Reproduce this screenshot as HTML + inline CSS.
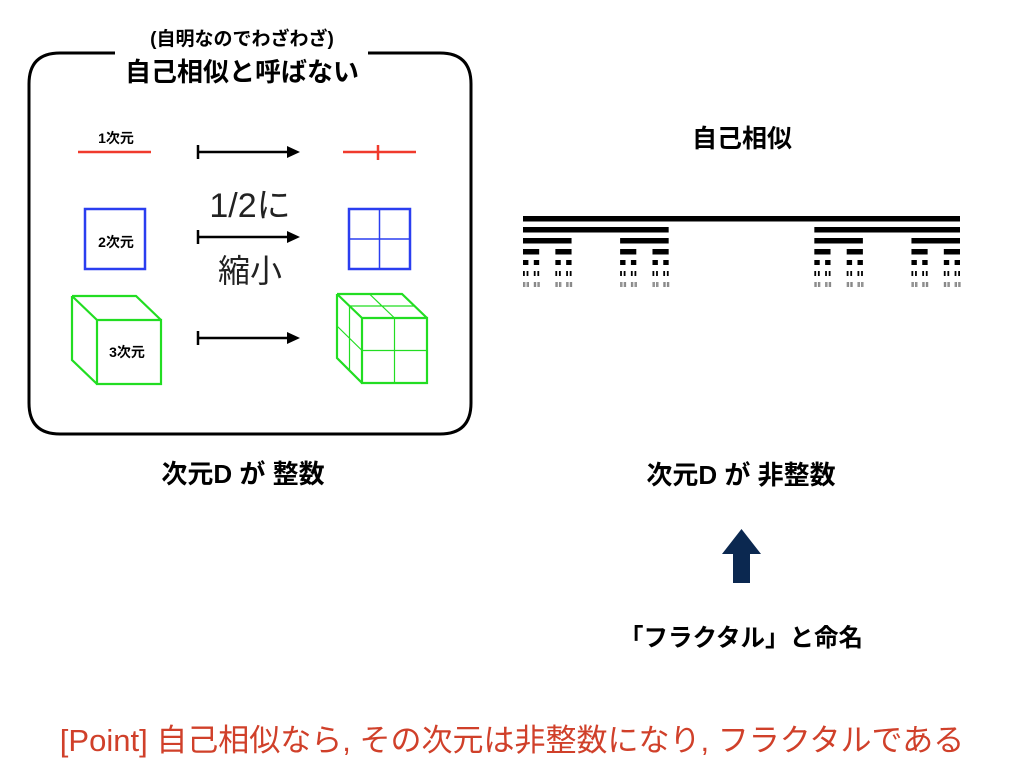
<!DOCTYPE html>
<html><head><meta charset="utf-8"><style>
html,body{margin:0;padding:0;background:#fff;}
svg text{font-family:"Liberation Sans","Noto Sans CJK JP",sans-serif;}
</style></head><body>
<svg id="s" width="1024" height="768" viewBox="0 0 1024 768" xmlns="http://www.w3.org/2000/svg">
<rect width="1024" height="768" fill="#fff"/>
<path d="M115 53 H60 Q29 53 29 84 V403 Q29 434 60 434 H440 Q471 434 471 403 V84 Q471 53 440 53 H368" fill="none" stroke="#000" stroke-width="3"/>
<text x="242" y="45" text-anchor="middle" font-size="19" font-weight="bold">(自明なのでわざわざ)</text>
<text x="242" y="81" text-anchor="middle" font-size="26" font-weight="bold">自己相似と呼ばない</text>
<line x1="78" y1="152" x2="151" y2="152" stroke="#f03a2c" stroke-width="2.5"/>
<text x="116" y="143" text-anchor="middle" font-size="14" font-weight="bold">1次元</text>
<line x1="343" y1="152" x2="416" y2="152" stroke="#f03a2c" stroke-width="2.5"/>
<line x1="378" y1="145" x2="378" y2="160" stroke="#f03a2c" stroke-width="2.5"/>
<g stroke="#000" stroke-width="2.5" fill="#000">
<line x1="198" y1="152" x2="290" y2="152"/><line x1="198" y1="145" x2="198" y2="159"/>
<line x1="198" y1="237" x2="290" y2="237"/><line x1="198" y1="230" x2="198" y2="244"/>
<line x1="198" y1="338" x2="290" y2="338"/><line x1="198" y1="331" x2="198" y2="345"/>
</g>
<g fill="#000">
<path d="M287 146 L300 152 L287 158 Z"/><path d="M287 231 L300 237 L287 243 Z"/><path d="M287 332 L300 338 L287 344 Z"/>
</g>
<text x="250" y="217" text-anchor="middle" font-size="34" fill="#222">1/2に</text>
<text x="250" y="282" text-anchor="middle" font-size="32" fill="#222">縮小</text>
<rect x="85" y="209" width="60" height="60" fill="none" stroke="#2a3ef0" stroke-width="2.5"/>
<text x="116" y="247" text-anchor="middle" font-size="14" font-weight="bold">2次元</text>
<rect x="349" y="209" width="61" height="60" fill="none" stroke="#2a3ef0" stroke-width="2.5"/>
<line x1="379.5" y1="209" x2="379.5" y2="269" stroke="#2a3ef0" stroke-width="1.5"/>
<line x1="349" y1="239" x2="410" y2="239" stroke="#2a3ef0" stroke-width="1.5"/>
<g fill="none" stroke="#22dd22" stroke-width="2.2">
<path d="M97 320 H161 V384 H97 Z M72 296 H136 L161 320 M72 296 V360 L97 384 M72 296 L97 320"/>
<path d="M362 318 H427 V383 H362 Z M337 294 H402 L427 318 M337 294 V358 L362 383 M337 294 L362 318"/>
</g>
<g fill="none" stroke="#22dd22" stroke-width="1.2">
<path d="M394.5 318 V383 M362 350.5 H427 M349.5 306 V370.5 M337 326 L362 350.5 M349.5 306 H414.5 L427 318 M369.5 294 L394.5 318"/>
</g>
<text x="127" y="357" text-anchor="middle" font-size="14" font-weight="bold">3次元</text>
<text x="243" y="483" text-anchor="middle" font-size="26" font-weight="bold">次元D が 整数</text>
<text x="742" y="147" text-anchor="middle" font-size="25" font-weight="bold">自己相似</text>
<g id="cantor"></g>
<text x="741" y="484" text-anchor="middle" font-size="26" font-weight="bold">次元D が 非整数</text>
<path d="M741.5 529 L761 554 L750 554 L750 583 L733 583 L733 554 L722 554 Z" fill="#0b2850"/>
<text x="741" y="646" text-anchor="middle" font-size="24.5" font-weight="bold">「フラクタル」と命名</text>
<text x="512" y="751" text-anchor="middle" font-size="31" fill="#d0402a">[Point] 自己相似なら, その次元は非整数になり, フラクタルである</text>
</svg>
<script>
(function(){
var g=document.getElementById('cantor');var ns='http://www.w3.org/2000/svg';
var segs=[[523,960]];
for(var r=0;r<7;r++){
 var y=216+r*11;
 segs.forEach(function(s){var e=document.createElementNS(ns,'rect');
  e.setAttribute('x',s[0]);e.setAttribute('y',y);e.setAttribute('width',Math.max(s[1]-s[0],1.2));e.setAttribute('height',r<4?5.5:5);
  e.setAttribute('fill',r==6?'#888':'#000');g.appendChild(e);});
 var n=[];segs.forEach(function(s){var w=(s[1]-s[0])/3;n.push([s[0],s[0]+w]);n.push([s[1]-w,s[1]]);});segs=n;
}
})();
</script>
</body></html>
